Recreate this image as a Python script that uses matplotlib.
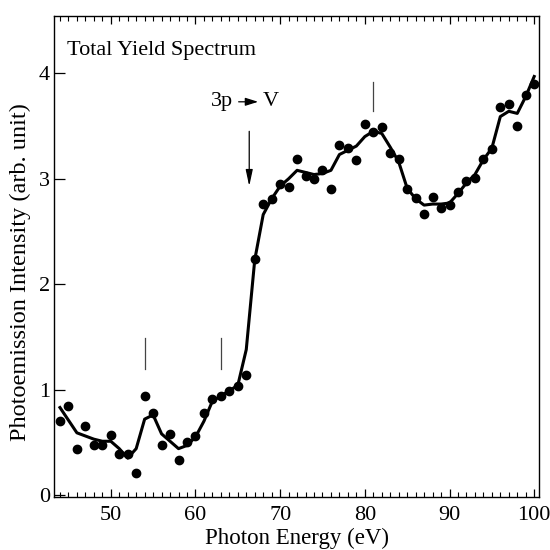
import matplotlib
matplotlib.use('Agg')
import matplotlib.pyplot as plt
from matplotlib.ticker import MultipleLocator

# photon energy (eV), measured points and smoothed curve
energy = list(range(44, 101))
measured = [0.70, 0.84, 0.44, 0.65, 0.47, 0.47, 0.57, 0.39, 0.39, 0.21,
            0.94, 0.78, 0.47, 0.58, 0.33, 0.50, 0.56, 0.78, 0.91, 0.94,
            0.99, 1.03, 1.14, 2.24, 2.76, 2.81, 2.95, 2.92, 3.19, 3.03,
            3.00, 3.08, 2.90, 3.32, 3.29, 3.18, 3.52, 3.44, 3.49, 3.24,
            3.19, 2.90, 2.82, 2.67, 2.83, 2.72, 2.75, 2.87, 2.98, 3.01,
            3.19, 3.28, 3.68, 3.71, 3.50, 3.79, 3.90]
smoothed = [0.83, 0.71, 0.59, 0.56, 0.53, 0.51, 0.51, 0.44, 0.35, 0.44,
            0.72, 0.76, 0.58, 0.51, 0.44, 0.47, 0.55, 0.70, 0.89, 0.94,
            0.99, 1.04, 1.38, 2.23, 2.66, 2.81, 2.93, 3.00, 3.08, 3.06,
            3.04, 3.05, 3.08, 3.23, 3.27, 3.31, 3.40, 3.45, 3.43, 3.30,
            3.16, 2.91, 2.81, 2.75, 2.76, 2.76, 2.77, 2.86, 2.96, 3.04,
            3.18, 3.29, 3.59, 3.64, 3.62, 3.78, 3.97]

# feature markers (eV, y bottom, y top)
marks = [(54, 1.20, 1.49), (63, 1.20, 1.49), (81, 3.64, 3.92)]

plt.rcParams['font.family'] = ['Liberation Serif', 'DejaVu Serif']

fig = plt.figure(figsize=(5.5, 5.5), dpi=100)
ax = fig.add_axes([0.0987, 0.0969, 0.8818, 0.8746])

ax.plot(energy, smoothed, color='black', linewidth=2.2, zorder=2)
ax.plot(energy, measured, 'o', color='black', markersize=6, zorder=3)

for x, y0, y1 in marks:
    ax.plot([x, x], [y0, y1], color='#444444', linewidth=0.9)

# 3p -> V threshold arrow
ax.annotate('', xy=(66.35, 2.93), xytext=(66.35, 3.45),
            arrowprops=dict(arrowstyle='-|>,head_length=0.7,head_width=0.15',
                            color='black', lw=0.9, mutation_scale=14,
                            shrinkA=0, shrinkB=0))
ax.text(64.4, 3.73, '3p', fontsize=16, ha='right', va='center')
ax.annotate('', xy=(67.4, 3.73), xytext=(65.1, 3.73),
            arrowprops=dict(arrowstyle='-|>,head_length=0.7,head_width=0.22',
                            color='black', lw=0.9, mutation_scale=11,
                            shrinkA=0, shrinkB=0))
ax.text(67.9, 3.73, 'V', fontsize=16, ha='left', va='center')

ax.text(44.8, 4.22, 'Total Yield Spectrum', fontsize=16, ha='left', va='center')

ax.set_xlim(43.33, 100.6)
ax.set_ylim(-0.016, 4.547)
ax.xaxis.set_major_locator(MultipleLocator(10))
ax.xaxis.set_minor_locator(MultipleLocator(1))
ax.yaxis.set_major_locator(MultipleLocator(1))
ax.tick_params(axis='x', which='both', direction='in', top=True, bottom=True,
               labelsize=16, pad=7)
ax.tick_params(axis='x', which='major', length=6, width=0.9)
ax.tick_params(axis='x', which='minor', length=3.5, width=0.8)
ax.tick_params(axis='y', which='major', direction='in', length=8, width=0.9,
               right=False, labelsize=16, pad=3)

for s in ax.spines.values():
    s.set_linewidth(1.0)

ax.set_xlabel('Photon Energy (eV)', fontsize=16.5, labelpad=1.5)
ax.set_ylabel('Photoemission Intensity (arb. unit)', fontsize=17.5)
ax.yaxis.set_label_coords(-0.047, 0.467)

fig.savefig('out.png', dpi=100)
